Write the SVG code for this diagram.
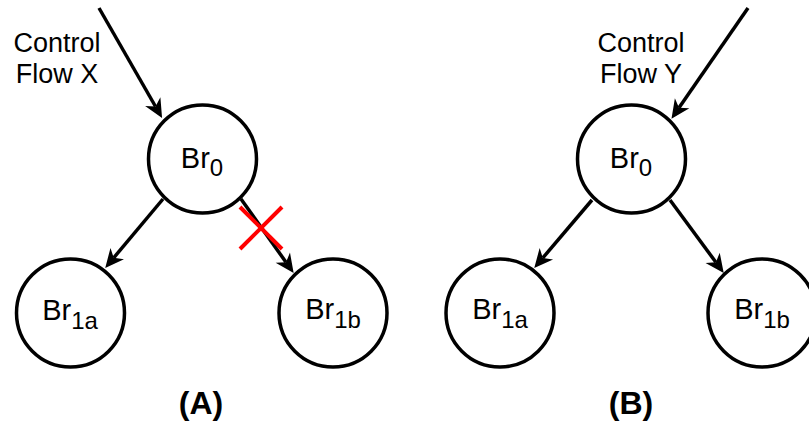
<svg xmlns="http://www.w3.org/2000/svg" width="809" height="426" viewBox="0 0 809 426">
<style>
.node circle{fill:#fff;stroke:#000;stroke-width:3.5}
.lbl{font-family:"Liberation Sans",Arial,sans-serif;font-size:27px;fill:#000;text-anchor:middle}
.nl{font-size:29px}
.sub{font-size:24px}
.edge{stroke:#000;stroke-width:3.5;fill:none;marker-end:url(#arr)}
.cap{font-family:"Liberation Sans",Arial,sans-serif;font-size:32px;font-weight:bold;text-anchor:middle}
</style>
<defs>
<marker id="arr" markerUnits="userSpaceOnUse" markerWidth="22" markerHeight="22" viewBox="-1 -10 20 20" refX="5" refY="0" orient="auto">
<path d="M0,-8 L17,0 L0,8 L5,0 Z" fill="#000"/>
</marker>
</defs>
<rect width="809" height="426" fill="#fff"/>
<g id="connectors">
<line class="edge" x1="99" y1="8" x2="155.5" y2="106.5"/>
<line class="edge" x1="748" y1="8" x2="679" y2="107.8"/>
<line class="edge" x1="163" y1="199" x2="113.7" y2="257.8"/>
<line class="edge" x1="241" y1="199" x2="286" y2="262.2"/>
<line class="edge" x1="592" y1="200" x2="542.8" y2="257.9"/>
<line class="edge" x1="670" y1="200" x2="715.9" y2="262.3"/>
</g>
<g id="cross" stroke="#ff0000" stroke-width="4">
<line x1="240" y1="207" x2="282" y2="249"/>
<line x1="282" y1="207" x2="240" y2="249"/>
</g>
<g id="labelX"><text class="lbl" x="57" y="52">Control</text><text class="lbl" x="57" y="83">Flow X</text></g>
<g id="labelY"><text class="lbl" x="641" y="52">Control</text><text class="lbl" x="641" y="83">Flow Y</text></g>
<g id="A_Br0" class="node"><circle cx="202.5" cy="159" r="54"/><text class="lbl nl" x="202" y="168">Br<tspan class="sub" dy="8">0</tspan></text></g>
<g id="A_Br1a" class="node"><circle cx="70.5" cy="313" r="54"/><text class="lbl nl" x="70" y="320">Br<tspan class="sub" dy="9">1a</tspan></text></g>
<g id="A_Br1b" class="node"><circle cx="333" cy="313" r="54"/><text class="lbl nl" x="333" y="319">Br<tspan class="sub" dy="9">1b</tspan></text></g>
<g id="B_Br0" class="node"><circle cx="631.5" cy="159" r="54"/><text class="lbl nl" x="631" y="168">Br<tspan class="sub" dy="8">0</tspan></text></g>
<g id="B_Br1a" class="node"><circle cx="500" cy="313" r="54"/><text class="lbl nl" x="500" y="319">Br<tspan class="sub" dy="9">1a</tspan></text></g>
<g id="B_Br1b" class="node"><circle cx="762" cy="313" r="54"/><text class="lbl nl" x="762" y="319">Br<tspan class="sub" dy="9">1b</tspan></text></g>
<text class="cap" x="201" y="414">(A)</text>
<text class="cap" x="631" y="414">(B)</text>
</svg>
